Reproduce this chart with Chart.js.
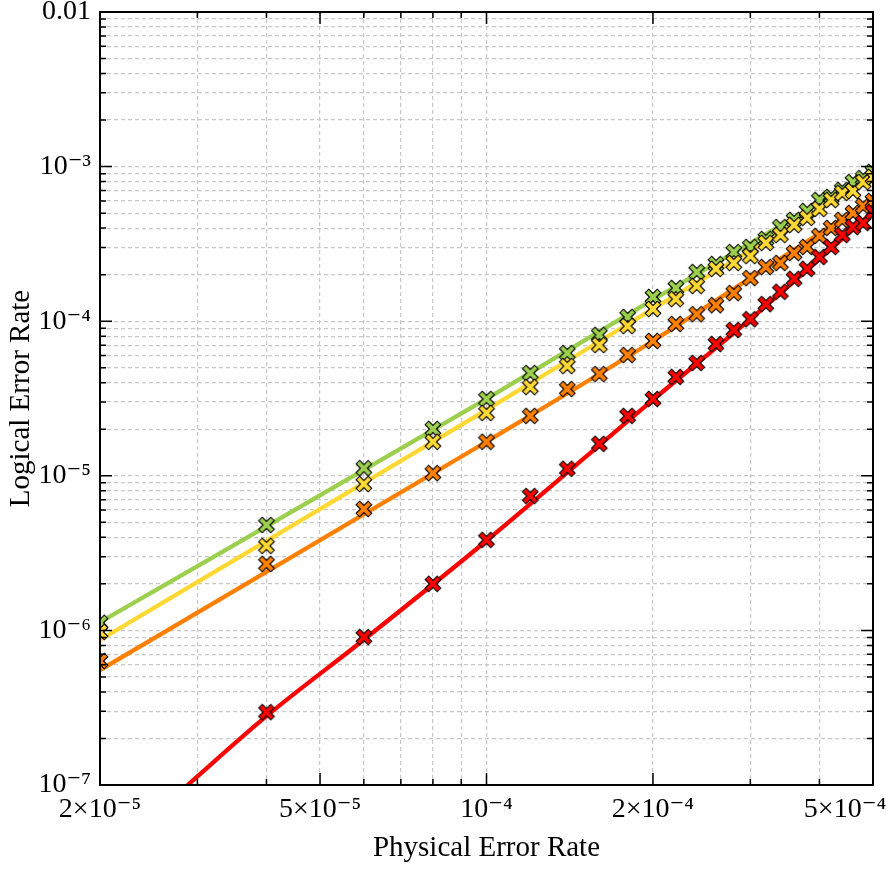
<!DOCTYPE html>
<html lang="en">
<head>
    <meta charset="UTF-8">
    <title>Logical Error Rate vs Physical Error Rate</title>
    <style>
        body {
            margin: 0;
            background-color: #fff;
        }

        .container {
            width: 886px;
            height: 886px;
        }
    </style>
</head>
<body>
    <div class="container">
        <canvas id="chart" width="886" height="886"></canvas>
    </div>

    <script src="https://cdn.jsdelivr.net/npm/chart.js"></script>
    <script>
        // Simulated points (x positions shared by all four series)
        const physicalRates = [2e-5, 4e-5, 6e-5, 8e-5, 1e-4, 1.2e-4, 1.4e-4, 1.6e-4, 1.8e-4, 2e-4,
            2.2e-4, 2.4e-4, 2.6e-4, 2.8e-4, 3e-4, 3.2e-4, 3.4e-4, 3.6e-4, 3.8e-4, 4e-4,
            4.2e-4, 4.4e-4, 4.6e-4, 4.8e-4, 5e-4];
        const greenRates = [1.12e-6, 4.81e-6, 1.12e-5, 2.01e-5, 3.14e-5, 4.62e-5, 6.22e-5, 8.15e-5, 1.065e-4, 1.435e-4,
            1.64e-4, 2.08e-4, 2.34e-4, 2.80e-4, 3.02e-4, 3.40e-4, 4.06e-4, 4.52e-4, 5.16e-4, 6.08e-4,
            6.36e-4, 7.06e-4, 7.94e-4, 8.43e-4, 9.22e-4];
        const yellowRates = [9.77e-7, 3.52e-6, 8.85e-6, 1.66e-5, 2.55e-5, 3.75e-5, 5.13e-5, 7.01e-5, 9.31e-5, 1.20e-4,
            1.39e-4, 1.69e-4, 2.18e-4, 2.38e-4, 2.64e-4, 3.21e-4, 3.61e-4, 4.19e-4, 4.66e-4, 5.32e-4,
            6.08e-4, 6.75e-4, 6.95e-4, 7.94e-4, 8.57e-4];
        const orangeRates = [6.34e-7, 2.69e-6, 6.10e-6, 1.04e-5, 1.66e-5, 2.44e-5, 3.64e-5, 4.55e-5, 6.04e-5, 7.45e-5,
            9.6e-5, 1.11e-4, 1.27e-4, 1.52e-4, 1.90e-4, 2.24e-4, 2.38e-4, 2.76e-4, 3.02e-4, 3.56e-4,
            4.01e-4, 4.52e-4, 5.01e-4, 5.56e-4, 5.99e-4];
        const redRates = [null, 2.96e-7, 9.06e-7, 2.0e-6, 3.85e-6, 7.4e-6, 1.11e-5, 1.61e-5, 2.44e-5, 3.14e-5,
            4.36e-5, 5.37e-5, 7.12e-5, 8.77e-5, 1.03e-4, 1.29e-4, 1.55e-4, 1.88e-4, 2.18e-4, 2.60e-4,
            3.02e-4, 3.61e-4, 4.06e-4, 4.32e-4, 5.08e-4];

        // Fitted curves
        const greenFitX = [2e-5, 1e-4, 2e-4, 5e-4];
        const greenFit = [1.13e-6, 3.14e-5, 1.38e-4, 9.2e-4];
        const yellowFitX = [2e-5, 1e-4, 2e-4, 5e-4];
        const yellowFit = [8.67e-7, 2.67e-5, 1.2e-4, 8.5e-4];
        const orangeFitX = [2e-5, 1e-4, 2e-4, 3e-4, 5e-4];
        const orangeFit = [5.54e-7, 1.66e-5, 7.45e-5, 1.9e-4, 6.17e-4];
        const redFitX = [2.88e-5, 4e-5, 6e-5, 1e-4, 2e-4, 3e-4, 5e-4];
        const redFit = [1e-7, 2.79e-7, 8.7e-7, 3.8e-6, 3.1e-5, 1.03e-4, 5.1e-4];

        // Axis ticks
        const xTickValues = [2e-5, 3e-5, 4e-5, 5e-5, 6e-5, 7e-5, 8e-5, 9e-5, 1e-4, 2e-4, 3e-4, 4e-4, 5e-4];
        const xTickLabels = ['2×10⁻⁵', '', '', '5×10⁻⁵', '', '', '', '', '10⁻⁴', '2×10⁻⁴', '', '', '5×10⁻⁴\u2003\u2003'];
        const yDecades = [1e-7, 1e-6, 1e-5, 1e-4, 1e-3, 1e-2];
        const yDecadeLabels = ['10⁻⁷', '10⁻⁶', '10⁻⁵', '10⁻⁴', '10⁻³', '0.01'];

        const colors = {
            green: '#9ccf4e',
            yellow: '#ffd833',
            orange: '#ff8000',
            red: '#ff0000'
        };

        const yTickValues = [];
        yDecades.forEach((d, i) => {
            if (i === yDecades.length - 1) { yTickValues.push(d); return; }
            for (let m = 1; m <= 9; m++) yTickValues.push(d * m);
        });

        function yLabel(v) {
            const i = yDecades.findIndex(d => Math.abs(Math.log10(v) - Math.log10(d)) < 1e-6);
            return i >= 0 ? yDecadeLabels[i] : '';
        }

        // filled "x" marker with a black edge
        function crossMarker(fill) {
            const c = document.createElement('canvas');
            c.width = 20; c.height = 20;
            const g = c.getContext('2d');
            const s = 7.8, a = 3.5, m = 10;
            const pts = [[-s + a, -s], [0, -a], [s - a, -s], [s, -s + a], [a, 0], [s, s - a],
                [s - a, s], [0, a], [-s + a, s], [-s, s - a], [-a, 0], [-s, -s + a]];
            g.beginPath();
            pts.forEach((p, i) => i ? g.lineTo(m + p[0], m + p[1]) : g.moveTo(m + p[0], m + p[1]));
            g.closePath();
            g.fillStyle = fill;
            g.fill();
            g.lineWidth = 1.1;
            g.strokeStyle = '#000';
            g.stroke();
            return c;
        }

        const toPoints = (xs, ys) => xs.map((x, i) => ({ x: x, y: ys[i] })).filter(p => p.y !== null);

        function fitLine(xs, ys, color, order) {
            return {
                data: toPoints(xs, ys),
                showLine: true,
                borderColor: color,
                borderWidth: 4.3,
                pointRadius: 0,
                cubicInterpolationMode: 'monotone',
                clip: 0,
                order: order
            };
        }

        function markers(ys, color, order) {
            return {
                data: toPoints(physicalRates, ys),
                pointStyle: crossMarker(color),
                pointRadius: 8,
                clip: 0,
                order: order
            };
        }

        // inward ticks and full box around the plot
        const framePlugin = {
            id: 'frame',
            afterDatasetsDraw(chart) {
                const { ctx, chartArea: a, scales: { x, y } } = chart;
                ctx.save();
                ctx.strokeStyle = '#000';
                ctx.lineWidth = 1.5;
                ctx.beginPath();
                x.ticks.forEach(t => {
                    const px = x.getPixelForValue(t.value);
                    const len = t.label ? 12 : 6;
                    ctx.moveTo(px, a.bottom); ctx.lineTo(px, a.bottom - len);
                    ctx.moveTo(px, a.top); ctx.lineTo(px, a.top + len);
                });
                y.ticks.forEach(t => {
                    const py = y.getPixelForValue(t.value);
                    const len = t.label ? 12 : 6;
                    ctx.moveTo(a.left, py); ctx.lineTo(a.left + len, py);
                    ctx.moveTo(a.right, py); ctx.lineTo(a.right - len, py);
                });
                ctx.stroke();
                ctx.lineWidth = 2;
                ctx.strokeRect(a.left, a.top, a.right - a.left, a.bottom - a.top);
                ctx.restore();
            }
        };

        Chart.defaults.font.family = "'Liberation Serif', 'DejaVu Serif', serif";
        Chart.defaults.color = '#000';

        const tickFont = { size: 28 };
        const titleFont = { size: 29 };

        new Chart(document.getElementById('chart').getContext('2d'), {
            type: 'scatter',
            data: {
                datasets: [
                    fitLine(greenFitX, greenFit, colors.green, 8),
                    fitLine(yellowFitX, yellowFit, colors.yellow, 7),
                    fitLine(orangeFitX, orangeFit, colors.orange, 6),
                    fitLine(redFitX, redFit, colors.red, 5),
                    markers(greenRates, colors.green, 4),
                    markers(yellowRates, colors.yellow, 3),
                    markers(orangeRates, colors.orange, 2),
                    markers(redRates, colors.red, 1)
                ]
            },
            options: {
                responsive: false,
                animation: false,
                events: [],
                layout: { padding: { top: 12, right: 13, left: 0, bottom: 0 } },
                plugins: { legend: { display: false }, tooltip: { enabled: false } },
                scales: {
                    x: {
                        type: 'logarithmic',
                        min: 2e-5,
                        max: 5e-4,
                        afterBuildTicks: s => { s.ticks = xTickValues.map(v => ({ value: v })); },
                        afterFit: s => { s.height = 101; s.paddingLeft = 0; s.paddingRight = 0; },
                        ticks: {
                            autoSkip: false,
                            maxRotation: 0,
                            minRotation: 0,
                            padding: 8,
                            font: tickFont,
                            callback: (v, i) => xTickLabels[i]
                        },
                        grid: { color: '#c8c8c8', lineWidth: 1.2, drawTicks: false },
                        border: { display: false, dash: [4, 3] },
                        title: {
                            display: true,
                            text: 'Physical Error Rate',
                            font: titleFont,
                            padding: { top: 0, bottom: 20 }
                        }
                    },
                    y: {
                        type: 'logarithmic',
                        min: 1e-7,
                        max: 1e-2,
                        afterBuildTicks: s => { s.ticks = yTickValues.map(v => ({ value: v })); },
                        afterFit: s => { s.width = 100; s.paddingTop = 0; s.paddingBottom = 0; },
                        ticks: {
                            autoSkip: false,
                            padding: 9,
                            font: tickFont,
                            callback: v => yLabel(v)
                        },
                        grid: { color: '#c8c8c8', lineWidth: 1.2, drawTicks: false },
                        border: { display: false, dash: [4, 3] },
                        title: {
                            display: true,
                            text: 'Logical Error Rate',
                            font: titleFont,
                            padding: { top: 4, bottom: 0 }
                        }
                    }
                }
            },
            plugins: [framePlugin]
        });
    </script>
</body>
</html>
